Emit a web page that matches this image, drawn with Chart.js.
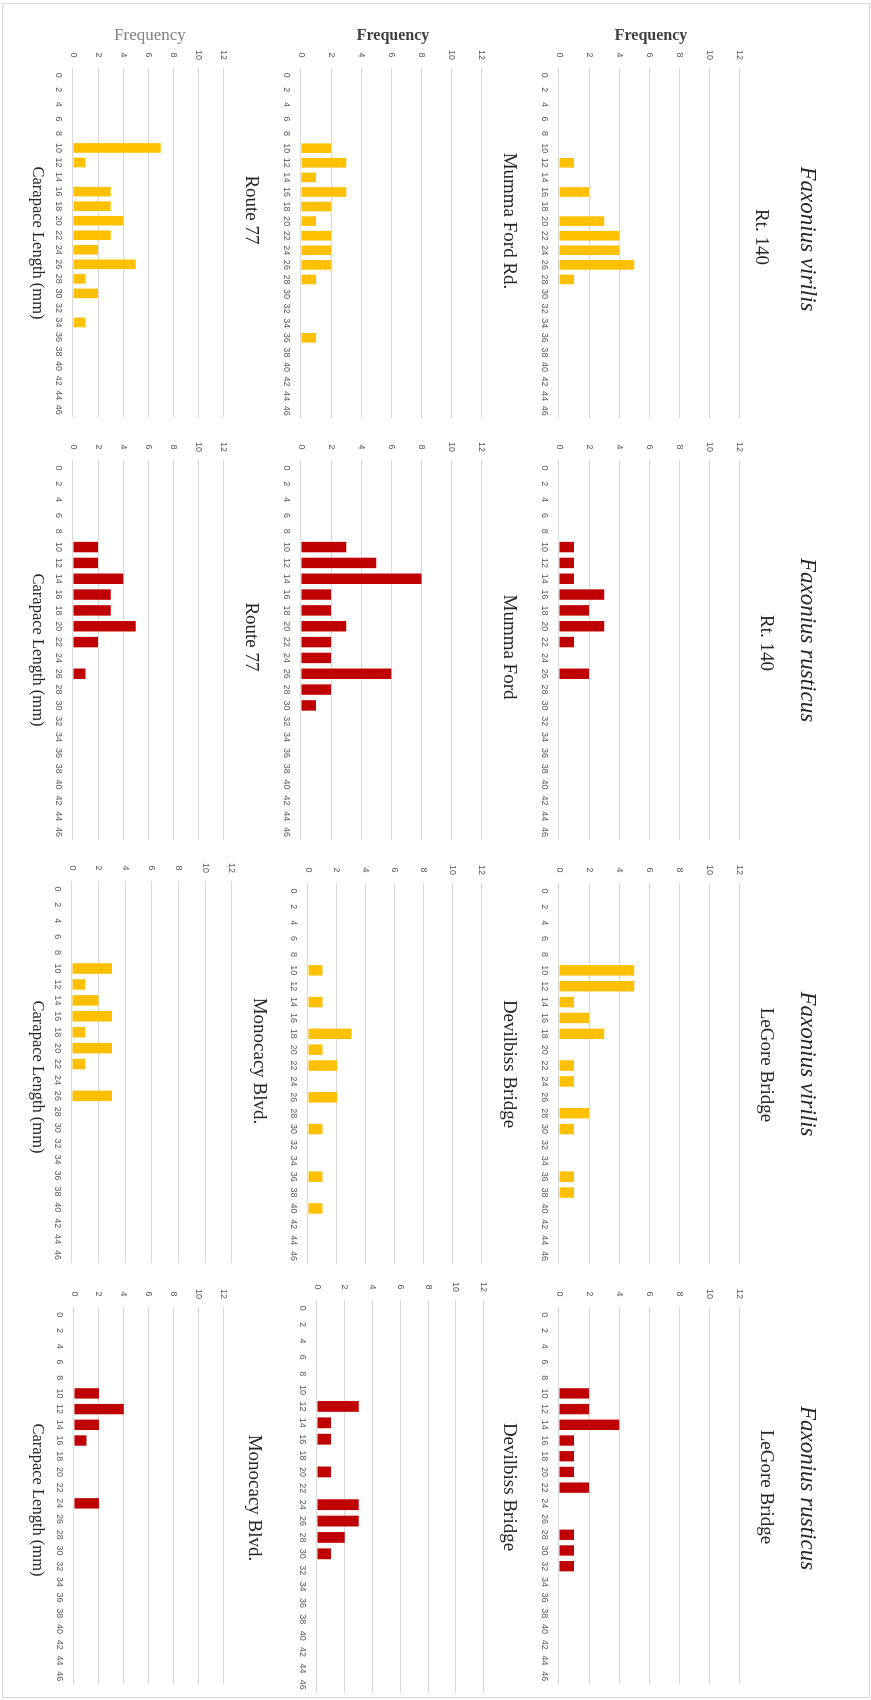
<!DOCTYPE html>
<html>
<head>
<meta charset="utf-8">
<script src="https://cdn.jsdelivr.net/npm/chart.js@4.4.1/dist/chart.umd.min.js"></script>
<style>
  html, body { margin: 0; padding: 0; background: #fff; }
  #page { position: relative; width: 871px; height: 1700px; overflow: hidden; background: #fff; }
  /* The figure is laid out landscape (1700 x 871) and turned a quarter turn clockwise. */
  #figure { position: absolute; left: 0; top: 0; width: 1700px; height: 871px;
            transform-origin: 0 0; transform: translate(871px, 0) rotate(90deg); }
  #frame { position: absolute; left: 3px; top: 1px; width: 1693px; height: 866px; border: 1px solid #d9d9d9; }
  .txt { position: absolute; white-space: nowrap; text-align: center; height: 40px; line-height: 40px;
         font-family: "Liberation Serif", "Times New Roman", serif; }
</style>
</head>
<body>
<div id="page"><div id="figure"><div id="frame"></div></div></div>
<script>
// Carapace length classes (mm)
const lengths = ['0','2','4','6','8','10','12','14','16','18','20','22','24','26','28','30','32','34','36','38','40','42','44','46'];
const freqTicks = [0, 2, 4, 6, 8, 10, 12];

// Frequencies per length class, Faxonius virilis
const virilisRt140     = [0,0,0,0,0,0,1,0,2,0,3,4,4,5,1,0,0,0,0,0,0,0,0,0];
const virilisMummaFord = [0,0,0,0,0,2,3,1,3,2,1,2,2,2,1,0,0,0,1,0,0,0,0,0];
const virilisRoute77   = [0,0,0,0,0,7,1,0,3,3,4,3,2,5,1,2,0,1,0,0,0,0,0,0];
const virilisLeGore    = [0,0,0,0,0,5,5,1,2,3,0,1,1,0,2,1,0,0,1,1,0,0,0,0];
const virilisDevilbiss = [0,0,0,0,0,1,0,1,0,3,1,2,0,2,0,1,0,0,1,0,1,0,0,0];
const virilisMonocacy  = [0,0,0,0,0,3,1,2,3,1,3,1,0,3,0,0,0,0,0,0,0,0,0,0];

// Frequencies per length class, Faxonius rusticus
const rusticusRt140     = [0,0,0,0,0,1,1,1,3,2,3,1,0,2,0,0,0,0,0,0,0,0,0,0];
const rusticusMummaFord = [0,0,0,0,0,3,5,8,2,2,3,2,2,6,2,1,0,0,0,0,0,0,0,0];
const rusticusRoute77   = [0,0,0,0,0,2,2,4,3,3,5,2,0,1,0,0,0,0,0,0,0,0,0,0];
const rusticusLeGore    = [0,0,0,0,0,2,2,4,1,1,1,2,0,0,1,1,1,0,0,0,0,0,0,0];
const rusticusDevilbiss = [0,0,0,0,0,0,3,1,1,0,1,0,3,3,2,1,0,0,0,0,0,0,0,0];
const rusticusMonocacy  = [0,0,0,0,0,2,4,2,1,0,0,0,2,0,0,0,0,0,0,0,0,0,0,0];

const speciesNames = ['Faxonius virilis', 'Faxonius rusticus', 'Faxonius virilis', 'Faxonius rusticus'];

const YELLOW = '#ffc000';
const RED = '#c00000';

// Panels: plot rectangle in landscape coordinates (x0..x1 across, y0 = top of 12, y1 = baseline 0)
const panels = [
  { site: 'Rt. 140',          values: virilisRt140,      color: YELLOW, x0: 68,   x1: 418,  y0: 128, y1: 312, tx: 237,  ty: 109 },
  { site: 'Mumma Ford Rd.',   values: virilisMummaFord,  color: YELLOW, x0: 68,   x1: 418,  y0: 386, y1: 570, tx: 221,  ty: 361 },
  { site: 'Route 77',         values: virilisRoute77,    color: YELLOW, x0: 68,   x1: 417,  y0: 644, y1: 798, tx: 210,  ty: 619 },
  { site: 'Rt. 140',          values: rusticusRt140,     color: RED,    x0: 460,  x1: 840,  y0: 128, y1: 312, tx: 643,  ty: 104 },
  { site: 'Mumma Ford',       values: rusticusMummaFord, color: RED,    x0: 460,  x1: 840,  y0: 386, y1: 570, tx: 647,  ty: 361 },
  { site: 'Route 77',         values: rusticusRoute77,   color: RED,    x0: 460,  x1: 840,  y0: 644, y1: 798, tx: 637,  ty: 619 },
  { site: 'LeGore Bridge',    values: virilisLeGore,     color: YELLOW, x0: 883,  x1: 1264, y0: 128, y1: 312, tx: 1065, ty: 104 },
  { site: 'Devilbiss Bridge', values: virilisDevilbiss,  color: YELLOW, x0: 883,  x1: 1264, y0: 386, y1: 563, tx: 1064, ty: 361 },
  { site: 'Monocacy Blvd.',   values: virilisMonocacy,   color: YELLOW, x0: 881,  x1: 1263, y0: 636, y1: 799, tx: 1061, ty: 611 },
  { site: 'LeGore Bridge',    values: rusticusLeGore,    color: RED,    x0: 1307, x1: 1684, y0: 128, y1: 312, tx: 1487, ty: 104 },
  { site: 'Devilbiss Bridge', values: rusticusDevilbiss, color: RED,    x0: 1300, x1: 1693, y0: 384, y1: 554, tx: 1487, ty: 361 },
  { site: 'Monocacy Blvd.',   values: rusticusMonocacy,  color: RED,    x0: 1307, x1: 1684, y0: 644, y1: 797, tx: 1498, ty: 616 }
];

const fig = document.getElementById('figure');

function addText(text, cx, cy, css, rotate) {
  const d = document.createElement('div');
  d.className = 'txt';
  d.textContent = text;
  d.style.left = (cx - 300) + 'px';
  d.style.width = '600px';
  d.style.top = (cy - 20) + 'px';
  d.style.cssText += css;
  if (rotate) d.style.transform = 'rotate(' + rotate + 'deg)';
  fig.appendChild(d);
}

const PAD_T = 10, PAD_R = 10, AX_W = 30, AX_H = 26;
const tickFont = { family: '"Liberation Sans", Arial, sans-serif', size: 9 };

function drawPanel(p) {
  const w = AX_W + (p.x1 - p.x0) + PAD_R;
  const h = PAD_T + (p.y1 - p.y0) + AX_H;
  const c = document.createElement('canvas');
  c.width = w; c.height = h;
  c.style.cssText = 'position:absolute;left:' + (p.x0 - AX_W) + 'px;top:' + (p.y0 - PAD_T) + 'px;width:' + w + 'px;height:' + h + 'px;';
  fig.appendChild(c);
  new Chart(c, {
    type: 'bar',
    data: {
      labels: lengths,
      datasets: [{ data: p.values, backgroundColor: p.color, borderWidth: 0,
                   barPercentage: 0.66, categoryPercentage: 1 }]
    },
    options: {
      responsive: false,
      animation: false,
      devicePixelRatio: 1,
      layout: { padding: { top: PAD_T, right: PAD_R, left: 0, bottom: 0 } },
      plugins: { legend: { display: false }, tooltip: { enabled: false }, title: { display: false } },
      scales: {
        x: {
          ticks: { autoSkip: false, maxRotation: 0, minRotation: 0, font: tickFont, color: '#595959', padding: 9 },
          grid: { display: false, drawTicks: false },
          border: { display: false },
          afterFit(s) { s.height = AX_H; }
        },
        y: {
          min: 0, max: 12,
          afterBuildTicks(s) { s.ticks = freqTicks.map(v => ({ value: v })); },
          ticks: { font: tickFont, color: '#595959', padding: 8, crossAlign: 'center' },
          grid: { color: '#d9d9d9', lineWidth: 1, drawTicks: false },
          border: { display: false },
          afterFit(s) { s.width = AX_W; }
        }
      }
    }
  });
  addText(p.site, p.tx, p.ty, 'font-size:19px;color:#262626;');
}

panels.forEach(drawPanel);

// Species headers
const speciesCenters = [239, 640, 1064, 1488];
speciesNames.forEach((s, i) => addText(s, speciesCenters[i], 63, 'font-size:23px;font-style:italic;color:#262626;'));

// Frequency axis titles on the first column of charts
addText('Frequency', 35, 220, 'font-size:16px;font-weight:bold;color:#404040;', -90);
addText('Frequency', 35, 478, 'font-size:16px;font-weight:bold;color:#404040;', -90);
addText('Frequency', 35, 721, 'font-size:17px;color:#808080;', -90);

// Length axis titles under the bottom charts
[243, 650, 1077, 1500].forEach(cx => addText('Carapace Length (mm)', cx, 833, 'font-size:16.5px;color:#262626;'));
</script>
</body>
</html>
